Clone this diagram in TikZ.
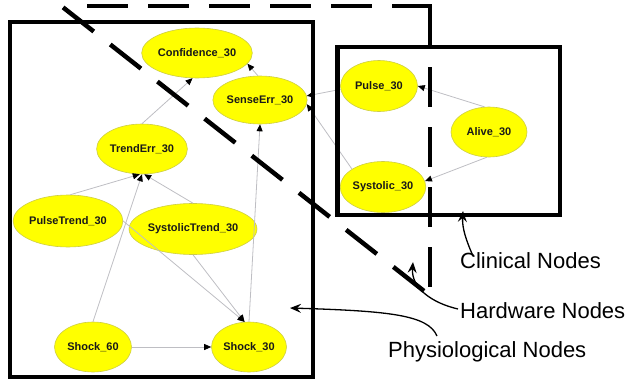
\documentclass[tikz,border=0pt]{standalone}
\usepackage{fontspec}
\setmainfont{Liberation Sans}
\usetikzlibrary{shapes.geometric,arrows.meta}
\definecolor{nodefill}{RGB}{255,255,0}
\definecolor{nodeline}{RGB}{205,205,70}
\definecolor{edgegray}{RGB}{190,190,195}
\begin{document}
\begin{tikzpicture}[x=1pt,y=-1pt,
  bn/.style={ellipse, fill=nodefill, draw=nodeline, line width=0.6pt, inner sep=0pt,
    minimum width=77pt, minimum height=50pt,
    font=\bfseries\fontsize{11}{13}\selectfont, text=black!90},
  dep/.style={draw=edgegray, line width=0.8pt, -{Triangle[length=7pt,width=6pt,color=black]}},
  region/.style={line width=4.5pt, draw=black, line join=miter},
  hw/.style={line width=4.5pt, draw=black},
  note/.style={font=\fontsize{22}{26}\selectfont, inner sep=0pt, anchor=base west},
  pointer/.style={line width=1.3pt, -{Stealth[length=11pt,width=9pt,inset=4pt]}}
]
\useasboundingbox (0,0) rectangle (629,380);

% Bayesian network nodes
\node[bn, minimum width=97pt] (conf) at (197,53) {Confidence\_30};
\node[bn, minimum width=90pt, minimum height=48pt] (se) at (260,100) {SenseErr\_30};
\node[bn, minimum width=80pt] (te) at (142,149) {TrendErr\_30};
\node[bn, minimum width=101pt, minimum height=52pt] (pt) at (68,221) {PulseTrend\_30};
\node[bn, minimum width=114pt, minimum height=51pt] (st) at (193,229) {SystolicTrend\_30};
\node[bn] (s60) at (93,347) {Shock\_60};
\node[bn, minimum width=75pt] (s30) at (249,347) {Shock\_30};
\node[bn, minimum height=51pt] (pu) at (379,86) {Pulse\_30};
\node[bn, minimum height=51pt] (sy) at (383,187) {Systolic\_30};
\node[bn, minimum width=76pt] (al) at (489,132) {Alive\_30};

% dependencies
\draw[dep] (al.100) -- (pu.east);
\draw[dep] (al.265) -- (sy.8);
\draw[dep] (pu.185) -- (se.5);
\draw[dep] (sy.150) -- (se.-5);
\draw[dep] (se.95) -- (conf.-12);
\draw[dep] (te.north) -- (conf.-100);
\draw[dep] (s30.north) -- (se.south);
\draw[dep] (pt.85) -- (te.-95);
\draw[dep] (st.north) -- (te.-85);
\draw[dep] (s60.north) -- (te.south);
\draw[dep] (pt.east) -- (s30.100);
\draw[dep] (st.south) -- (s30.100);
\draw[dep] (s60.east) -- (s30.west);

% node groups
\draw[region] (10,22) rectangle (313,377);
\draw[region] (337.5,47) rectangle (560,215);
\draw[hw, dash pattern=on 41pt off 20pt] (87,6) -- (372,6);
\draw[hw, line join=miter] (392,6) -- (430,6) -- (430,47);
\draw[hw, dash pattern=on 40pt off 20pt] (430,67) -- (430,288);
\draw[hw, dash pattern=on 39pt off 21pt] (424,291) -- (60,5);

% group labels
\node[note] (clin) at (460,268) {Clinical Nodes};
\node[note] (hard) at (460,318) {Hardware Nodes};
\node[note] (phys) at (388,357) {Physiological Nodes};
\coordinate (clinfrom) at (473,256);
\coordinate (clintip) at (463,211);
\coordinate (hardfrom) at (458,309);
\coordinate (hardtip) at (413,262);
\coordinate (physfrom) at (437,336);
\coordinate (phystip) at (290,308);
\draw[pointer] (clinfrom) .. controls (466,240) and (462,228) .. (clintip);
\draw[pointer] (hardfrom) .. controls (432,303) and (411,288) .. (hardtip);
\draw[pointer] (physfrom) .. controls (428,315) and (390,311) .. (phystip);
\end{tikzpicture}
\end{document}
